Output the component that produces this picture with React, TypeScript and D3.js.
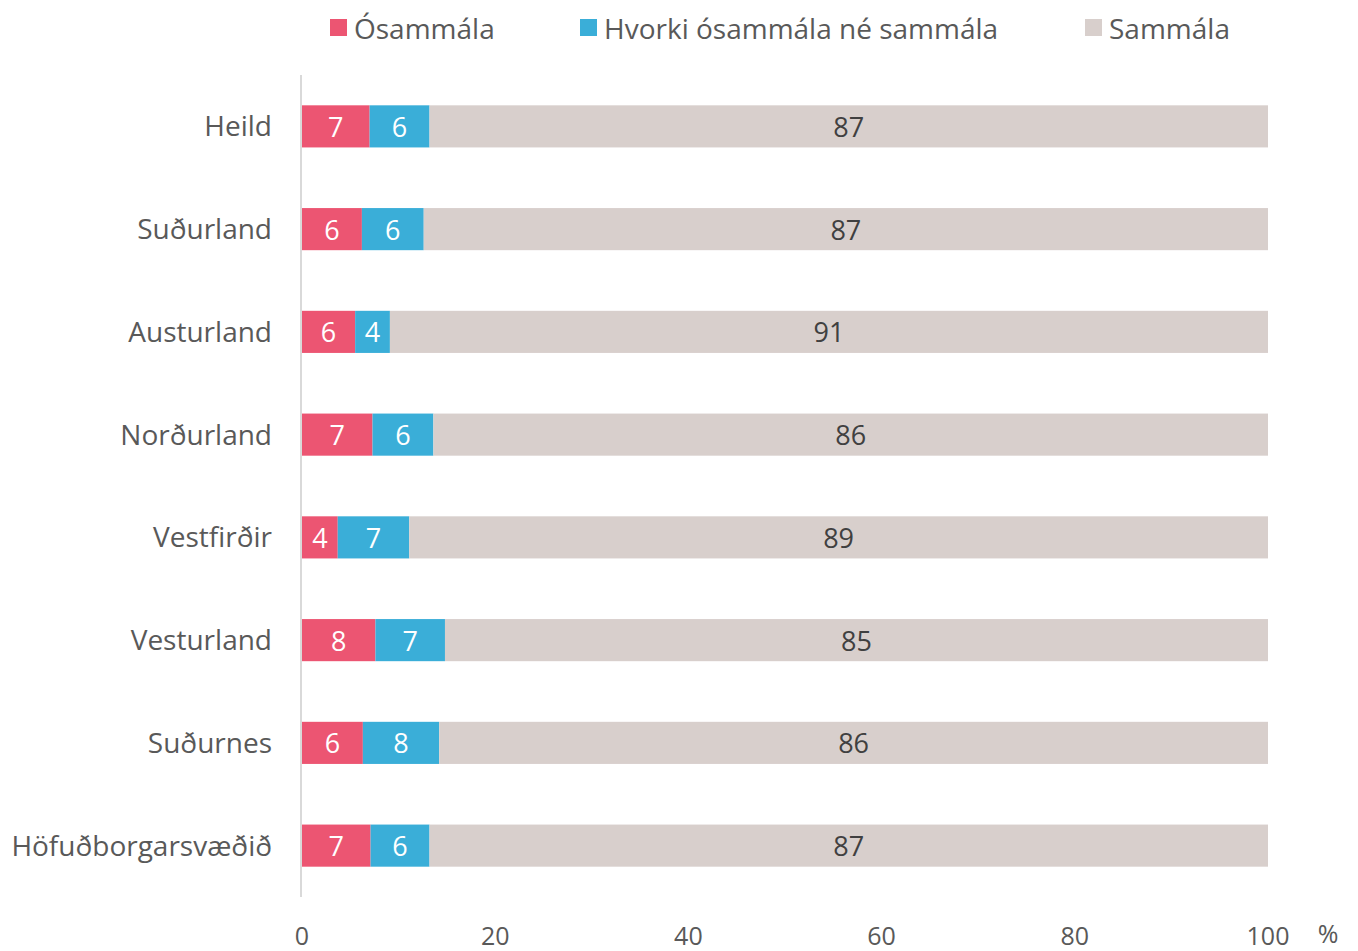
import React from "react";
import * as d3 from "d3";

const categories = ["Heild", "Suðurland", "Austurland", "Norðurland", "Vestfirðir", "Vesturland", "Suðurnes", "Höfuðborgarsvæðið"];
const osammala = [7.0, 6.2, 5.5, 7.3, 3.7, 7.6, 6.3, 7.1];
const hvorki = [6.2, 6.4, 3.6, 6.3, 7.4, 7.2, 7.9, 6.1];
const sammala = [86.8, 87.4, 90.9, 86.4, 88.9, 85.2, 85.8, 86.8];
const xTicks = [0, 20, 40, 60, 80, 100];
const seriesNames = ["Ósammála", "Hvorki ósammála né sammála", "Sammála"];
const colors = ["#EC5572", "#3AAED8", "#D8CFCC"];
const labelColors = ["#ffffff", "#ffffff", "#404040"];

const W = 1358, H = 951;
const font = "'Open Sans', sans-serif";

export default function App() {
  const x = d3.scaleLinear().domain([0, 100]).range([302, 1268]);
  const y = d3.scaleBand<string>().domain(categories).range([75, 897]).paddingInner(0.59).paddingOuter(0.295);
  const rows = categories.map((c, i) => ({ c, vals: [osammala[i], hvorki[i], sammala[i]] }));
  const legendX = [330, 580, 1085];
  return (
    <svg width={W} height={H} style={{ position: "absolute", left: 0, top: 0 }} fontFamily={font}>
      <line x1={301} x2={301} y1={75} y2={897} stroke="#D9D9D9" strokeWidth={2} />
      {rows.map((r) => {
        let acc = 0;
        return (
          <g key={r.c}>
            {r.vals.map((v, k) => {
              const x0 = x(acc);
              acc += v;
              const x1 = x(acc);
              return (
                <g key={k}>
                  <rect x={x0} y={y(r.c)} width={x1 - x0} height={y.bandwidth()} fill={colors[k]} />
                  <text x={(x0 + x1) / 2} y={y(r.c)! + y.bandwidth() / 2} textAnchor="middle" dominantBaseline="central" fontSize={27} fill={labelColors[k]}>
                    {Math.round(v)}
                  </text>
                </g>
              );
            })}
            <text x={272} y={y(r.c)! + y.bandwidth() / 2 - 1} textAnchor="end" dominantBaseline="central" fontSize={28} fill="#595959">{r.c}</text>
          </g>
        );
      })}
      {xTicks.map((t) => (
        <text key={t} x={x(t)} y={945} textAnchor="middle" fontSize={25} fill="#595959">{t}</text>
      ))}
      <text x={1328} y={943} textAnchor="middle" fontSize={25} fill="#595959">%</text>
      {seriesNames.map((s, k) => (
        <g key={s}>
          <rect x={legendX[k]} y={19} width={17} height={17} fill={colors[k]} />
          <text x={legendX[k] + 24} y={28} dominantBaseline="central" fontSize={28} fill="#595959">{s}</text>
        </g>
      ))}
    </svg>
  );
}
